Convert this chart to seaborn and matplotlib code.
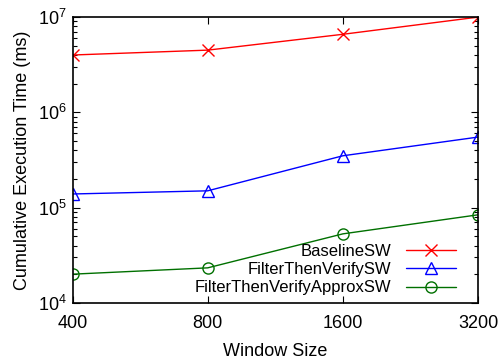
import matplotlib
matplotlib.use("Agg")
import matplotlib.pyplot as plt
import seaborn as sns
import pandas as pd
from matplotlib.ticker import FixedLocator, NullFormatter, LogLocator

window_sizes = [400, 800, 1600, 3200]
baseline = [4.0e6, 4.5e6, 6.6e6, 1.0e7]
ftv = [1.39e5, 1.5e5, 3.5e5, 5.5e5]
ftv_approx = [2.0e4, 2.33e4, 5.3e4, 8.4e4]
series_names = ["BaselineSW", "FilterThenVerifySW", "FilterThenVerifyApproxSW"]
colors = ["#ff0000", "#0000ff", "#007000"]
marker_list = ["x", "^", "o"]

sns.set_style("ticks")
plt.rcParams['font.family'] = ['Liberation Sans', 'DejaVu Sans']
plt.rcParams['text.color'] = 'black'
plt.rcParams['axes.labelcolor'] = 'black'
plt.rcParams['xtick.color'] = 'black'
plt.rcParams['ytick.color'] = 'black'

fig, ax = plt.subplots(figsize=(5.0, 3.64), dpi=100)
for name, vals, c, m in zip(series_names, [baseline, ftv, ftv_approx], colors, marker_list):
    d = pd.DataFrame({"Window Size": window_sizes, "Time": vals})
    sns.lineplot(data=d, x="Window Size", y="Time", ax=ax, color=c, marker=m,
                 linewidth=1, markersize=8, markerfacecolor="none",
                 markeredgecolor=c, markeredgewidth=1, label=name)

ax.set_xscale("log", base=2)
ax.set_yscale("log")
ax.set_xlim(400, 3200)
ax.set_ylim(1e4, 1e7)
ax.xaxis.set_major_locator(FixedLocator(window_sizes))
ax.set_xticklabels([str(w) for w in window_sizes])
ax.xaxis.set_minor_locator(FixedLocator([]))
ax.yaxis.set_major_locator(LogLocator(base=10, numticks=10))
ax.yaxis.set_minor_locator(LogLocator(base=10, subs=range(2, 10), numticks=20))
ax.yaxis.set_minor_formatter(NullFormatter())

ax.tick_params(axis="both", which="both", direction="in", top=True, right=True, labelsize=13)
ax.tick_params(axis="both", which="major", length=5, width=0.8)
ax.tick_params(axis="y", which="minor", length=3, width=0.8)
ax.tick_params(axis="x", pad=9)
ax.tick_params(axis="y", pad=4)
for s in ax.spines.values():
    s.set_linewidth(1.2)
    s.set_color("black")

ax.set_xlabel("Window Size", fontsize=13, labelpad=8)
ax.set_ylabel("Cumulative Execution Time (ms)", fontsize=13, labelpad=5)

handles, labels = ax.get_legend_handles_labels()
leg = ax.legend(handles, labels, loc="lower right", frameon=False, markerfirst=False,
                fontsize=12, handlelength=3.0, labelspacing=0.2, borderaxespad=0.3,
                handletextpad=0.9, bbox_to_anchor=(0.975, -0.015))

fig.subplots_adjust(left=0.145, right=0.956, top=0.953, bottom=0.168)
fig.savefig("out.png", dpi=100)
